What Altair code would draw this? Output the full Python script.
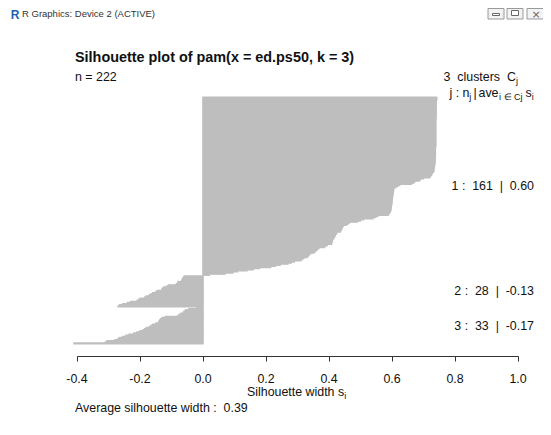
import altair as alt
import pandas as pd

# ---------------- data ----------------
cluster1 = [
    0.742, 0.742, 0.742, 0.741, 0.741, 0.741, 0.741, 0.741, 0.740, 0.740,
    0.740, 0.740, 0.740, 0.740, 0.740, 0.740, 0.740, 0.740, 0.740, 0.740,
    0.739, 0.739, 0.739, 0.739, 0.739, 0.739, 0.739, 0.739, 0.739, 0.739,
    0.739, 0.739, 0.739, 0.739, 0.739, 0.739, 0.739, 0.739, 0.739, 0.739,
    0.739, 0.739, 0.739, 0.739, 0.739, 0.738, 0.738, 0.738, 0.738, 0.738,
    0.738, 0.738, 0.738, 0.738, 0.738, 0.737, 0.737, 0.737, 0.737, 0.737,
    0.736,
    0.735, 0.735, 0.734, 0.734, 0.733, 0.733, 0.732,
    0.728, 0.727, 0.725, 0.722, 0.720,
    0.700, 0.690, 0.686,
    0.672, 0.668, 0.662,
    0.625, 0.618, 0.612,
    0.606, 0.605, 0.605, 0.604, 0.604, 0.603, 0.603, 0.602, 0.602, 0.601,
    0.601, 0.600, 0.600, 0.600, 0.599, 0.599, 0.598, 0.598, 0.597, 0.597,
    0.596, 0.595,
    0.592, 0.590, 0.588,
    0.555, 0.548, 0.540,
    0.510, 0.500, 0.490,
    0.465, 0.460, 0.455,
    0.445, 0.443, 0.441, 0.440, 0.438, 0.436,
    0.425, 0.423, 0.421, 0.419, 0.417, 0.415,
    0.412, 0.411, 0.410, 0.409, 0.408,
    0.395, 0.390, 0.385,
    0.368, 0.364, 0.360, 0.356, 0.352,
    0.340, 0.337, 0.334, 0.331,
    0.320, 0.315, 0.310,
    0.290, 0.280, 0.270,
    0.245, 0.230, 0.215,
    0.180, 0.160, 0.140,
    0.110, 0.095, 0.070,
    0.020,
]
cluster2 = [
    -0.060, -0.062, -0.065, -0.066, -0.068, -0.080, -0.080, -0.085, -0.110, -0.115,
    -0.125, -0.130, -0.130, -0.145, -0.150, -0.160, -0.165, -0.170, -0.180, -0.185,
    -0.200, -0.205, -0.210, -0.230, -0.240, -0.255, -0.265, -0.270,
]
cluster3 = [
    -0.020, -0.045, -0.055, -0.060, -0.062, -0.070, -0.075, -0.080, -0.120, -0.130,
    -0.135, -0.137, -0.140, -0.140, -0.150, -0.160, -0.165, -0.170, -0.180, -0.185,
    -0.190, -0.200, -0.210, -0.220, -0.235, -0.245, -0.255, -0.265, -0.270, -0.280,
    -0.305, -0.310, -0.410,
]
cluster_ids = [1, 2, 3]
cluster_sizes = [161, 28, 33]
cluster_avgs = ["0.60", "-0.13", "-0.17"]
n_total = 222
k_clusters = 3
avg_width = "0.39"
tick_values = [-0.4, -0.2, 0.0, 0.2, 0.4, 0.6, 0.8, 1.0]
tick_labels = ["-0.4", "-0.2", "0.0", "0.2", "0.4", "0.6", "0.8", "1.0"]
main_title = "Silhouette plot of pam(x = ed.ps50, k = 3)"
window_title = "R Graphics: Device 2 (ACTIVE)"

# ---------------- tables ----------------
rows = []
mids = []
pos = 0.0
for k, vals in enumerate([cluster1, cluster2, cluster3]):
    if k > 0:
        pos += 0.5          # R barplot space between clusters
    start = pos
    for v in vals:
        rows.append({"cluster": cluster_ids[k], "top": pos, "bottom": pos + 1, "s": v})
        pos += 1
    mids.append((start + pos) / 2)
total = pos
bars = pd.DataFrame(rows)

NB = "\u00a0"
lab_df = pd.DataFrame({
    "mid": mids,
    "label": [f"{c} :{NB}{NB}{n}{NB}{NB}|{NB}{NB}{a}" for c, n, a in zip(cluster_ids, cluster_sizes, cluster_avgs)],
})
tick_df = pd.DataFrame({"v": tick_values, "lab": tick_labels})

# ---------------- layout ----------------
W, H = 441, 247
OX, OY = 77, 97          # page position of the plot area origin
PAD = {"left": OX - 8, "top": OY - 8, "right": 535 - (OX - 8) - W, "bottom": 419 - (OY - 8) - H}
FONT = "Liberation Sans"
FS = 12.4
SUB = 9


def px(x):
    return x - OX


def py(y):
    return y - OY


xs = alt.Scale(domain=[-0.4, 1.0], nice=False, zero=False)
ys = alt.Scale(domain=[0, total], reverse=True, nice=False, zero=False)
xaxis = alt.Axis(values=tick_values, labels=False, title=None, grid=False, offset=12,
                 tickSize=5, domainColor="#333333", tickColor="#333333",
                 domainWidth=1, tickWidth=1)

bar_layer = alt.Chart(bars).mark_rect(color="#bebebe", stroke="#bebebe", strokeWidth=1.2).encode(
    x=alt.X("s:Q", scale=xs, axis=xaxis),
    x2=alt.datum(0),
    y=alt.Y("top:Q", scale=ys, axis=None),
    y2="bottom:Q",
)

tick_layer = alt.Chart(tick_df).mark_text(
    font=FONT, fontSize=FS, align="center", baseline="alphabetic", color="#111111"
).encode(
    x=alt.X("v:Q", scale=xs, axis=xaxis),
    y=alt.value(py(382.7)),
    text="lab:N",
)

clus_layer = alt.Chart(lab_df).mark_text(
    font=FONT, fontSize=FS, align="right", baseline="middle", color="#111111"
).encode(
    x=alt.value(px(534)),
    y=alt.Y("mid:Q", scale=ys, axis=None),
    text="label:N",
)


def txt(s, x, y, size=FS, weight="normal", align="left", color="#111111", font=FONT):
    return alt.Chart(pd.DataFrame({"t": [s]})).mark_text(
        font=font, fontSize=size, fontWeight=weight, align=align,
        baseline="alphabetic", color=color
    ).encode(x=alt.value(px(x)), y=alt.value(py(y)), text="t:N")


def box(x1, y1, x2, y2, fill, stroke):
    return alt.Chart(pd.DataFrame({"t": [0]})).mark_rect(
        fill=fill, stroke=stroke, strokeWidth=1
    ).encode(x=alt.value(px(x1)), x2=alt.value(px(x2)), y=alt.value(py(y1)), y2=alt.value(py(y2)))


L1 = 80.5
L2 = 96.5
texts = [
    # window chrome
    txt("R", 15, 19, size=12, weight="bold", align="center", color="#1f5fb0"),
    txt(window_title, 22, 16.5, size=9.5, color="#333333"),
    box(488, 8.5, 504, 19, "#f3f3f3", "#9a9a9a"),
    box(507, 8.5, 523, 19, "#f3f3f3", "#9a9a9a"),
    box(527, 8.5, 547, 19, "#f3f3f3", "#9a9a9a"),
    box(492.5, 13.5, 499.5, 15.5, "#ffffff", "#666666"),
    box(511.5, 10.5, 518.5, 15.5, "#ffffff", "#666666"),
    txt("\u00d7", 536, 17.5, size=11, align="center", color="#666666", font="DejaVu Sans"),
    # titles
    txt(main_title, 75, 61.5, size=14.4, weight="bold"),
    txt(f"n = {n_total}", 75, L1),
    txt(f"{k_clusters}", 443.5, L1),
    txt("clusters", 457.3, L1),
    txt("C", 507, L1),
    txt("j", 516, L1 + 3, size=SUB),
    txt("j :", 449.5, L2),
    txt("n", 462.5, L2),
    txt("j", 469.3, L2 + 3, size=SUB),
    txt("|", 473.5, L2),
    txt("ave", 478.5, L2),
    txt(f"i{NB}\u2208{NB}Cj", 499, L2 + 3, size=SUB),
    txt("s", 525.5, L2),
    txt("i", 531.8, L2 + 3, size=SUB),
    txt("Silhouette width s", 247, 395.5),
    txt("i", 344.3, 398.5, size=SUB),
    txt(f"Average silhouette width :{NB}{NB}{avg_width}", 75, 411.5),
]

chart = alt.layer(bar_layer, tick_layer, clus_layer, *texts).properties(
    width=W, height=H, padding=PAD, autosize=alt.AutoSizeParams(type="none"),
    background="white",
).configure_view(strokeWidth=0)

chart.save("out.html", embed_options={"renderer": "svg", "actions": False})
